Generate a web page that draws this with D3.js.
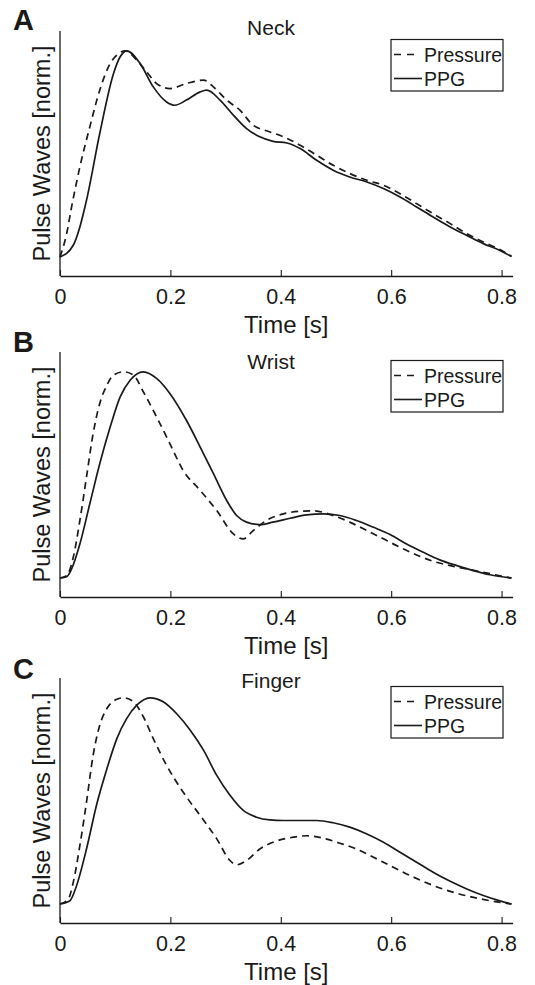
<!DOCTYPE html>
<html>
<head>
<meta charset="utf-8">
<script src="https://cdn.jsdelivr.net/npm/d3@7"></script>
<style>
  body { margin: 0; background: #fff; }
  svg text { font-family: "Liberation Sans", Arial, Helvetica, sans-serif; fill: #1a1a1a; }
</style>
</head>
<body>
<div id="chart"></div>
<script>
// panel letters / titles / legend entries
var panelLetters = ["A", "B", "C"];
var panelTitles = ["Neck", "Wrist", "Finger"];
var seriesNames = ["Pressure", "PPG"];
var xTicks = [0, 0.2, 0.4, 0.6, 0.8];
var xTickLabels = ["0", "0.2", "0.4", "0.6", "0.8"];

// pulse waves: [time (s), normalised amplitude]
var neckPressure = [[0,0],[0.012,0.113],[0.021,0.243],[0.036,0.437],[0.054,0.631],[0.072,0.809],[0.091,0.939],[0.103,0.979],[0.118,1],[0.139,0.955],[0.157,0.898],[0.175,0.841],[0.199,0.817],[0.229,0.841],[0.26,0.858],[0.278,0.825],[0.302,0.761],[0.326,0.712],[0.35,0.639],[0.374,0.612],[0.405,0.583],[0.435,0.542],[0.465,0.494],[0.495,0.445],[0.525,0.405],[0.556,0.372],[0.586,0.348],[0.616,0.307],[0.646,0.259],[0.676,0.21],[0.707,0.162],[0.737,0.113],[0.767,0.073],[0.797,0.036],[0.818,0.003]];
var neckPPG = [[0,0],[0.024,0.057],[0.036,0.146],[0.048,0.275],[0.072,0.599],[0.097,0.89],[0.109,0.971],[0.121,1],[0.145,0.939],[0.169,0.825],[0.193,0.752],[0.208,0.736],[0.229,0.761],[0.254,0.801],[0.266,0.809],[0.29,0.761],[0.314,0.688],[0.338,0.623],[0.362,0.583],[0.386,0.561],[0.411,0.553],[0.435,0.526],[0.465,0.469],[0.495,0.421],[0.525,0.388],[0.556,0.364],[0.586,0.332],[0.616,0.291],[0.646,0.243],[0.676,0.194],[0.707,0.146],[0.737,0.105],[0.767,0.065],[0.797,0.032],[0.818,0.003]];

var wristPressure = [[0,0],[0.012,0.011],[0.024,0.1],[0.036,0.279],[0.048,0.489],[0.06,0.7],[0.072,0.846],[0.085,0.935],[0.097,0.984],[0.115,1],[0.133,0.984],[0.151,0.903],[0.175,0.781],[0.199,0.652],[0.223,0.522],[0.254,0.425],[0.284,0.327],[0.314,0.214],[0.332,0.19],[0.35,0.23],[0.374,0.279],[0.405,0.311],[0.435,0.324],[0.459,0.326],[0.495,0.303],[0.525,0.271],[0.556,0.23],[0.586,0.19],[0.616,0.149],[0.646,0.112],[0.676,0.081],[0.707,0.06],[0.737,0.044],[0.767,0.028],[0.797,0.011],[0.818,0]];
var wristPPG = [[0,0],[0.012,0.006],[0.021,0.044],[0.036,0.165],[0.054,0.36],[0.072,0.554],[0.091,0.733],[0.109,0.878],[0.127,0.959],[0.151,1],[0.175,0.968],[0.199,0.895],[0.229,0.765],[0.254,0.635],[0.278,0.506],[0.302,0.376],[0.32,0.303],[0.338,0.271],[0.362,0.259],[0.386,0.271],[0.417,0.29],[0.447,0.306],[0.477,0.311],[0.507,0.303],[0.537,0.279],[0.568,0.246],[0.598,0.211],[0.628,0.165],[0.658,0.125],[0.688,0.088],[0.719,0.06],[0.749,0.036],[0.779,0.016],[0.818,0]];

var fingerPressure = [[0,0],[0.015,0.024],[0.024,0.105],[0.036,0.284],[0.048,0.494],[0.06,0.721],[0.072,0.867],[0.085,0.948],[0.1,0.989],[0.115,1],[0.133,0.981],[0.151,0.908],[0.169,0.802],[0.193,0.673],[0.223,0.543],[0.254,0.429],[0.284,0.316],[0.308,0.211],[0.32,0.19],[0.338,0.211],[0.362,0.267],[0.393,0.306],[0.423,0.324],[0.447,0.331],[0.477,0.319],[0.507,0.295],[0.537,0.267],[0.568,0.227],[0.598,0.186],[0.628,0.146],[0.658,0.11],[0.688,0.078],[0.719,0.052],[0.749,0.032],[0.779,0.016],[0.818,0]];
var fingerPPG = [[0,0],[0.018,0.016],[0.03,0.089],[0.048,0.267],[0.066,0.478],[0.085,0.656],[0.103,0.802],[0.121,0.9],[0.139,0.964],[0.163,1],[0.187,0.981],[0.211,0.924],[0.236,0.843],[0.26,0.746],[0.284,0.624],[0.308,0.527],[0.332,0.454],[0.356,0.421],[0.38,0.408],[0.405,0.405],[0.435,0.405],[0.465,0.405],[0.495,0.394],[0.525,0.373],[0.556,0.34],[0.586,0.3],[0.616,0.251],[0.646,0.203],[0.676,0.154],[0.707,0.11],[0.737,0.073],[0.767,0.041],[0.797,0.015],[0.818,0]];

var pressureSeries = [neckPressure, wristPressure, fingerPressure];
var ppgSeries = [neckPPG, wristPPG, fingerPPG];

// layout
var W = 535, H = 985;
var left = 60, right = 512.6;
var plotH = 245;
var panelTop = [31, 352, 678];
var titleY = [35, 369, 688];
var letterY = [30, 352, 679];

var svg = d3.select("#chart")
  .append("svg")
    .attr("width", W)
    .attr("height", H);

var x = d3.scaleLinear()
    .domain([0, 0.82])
    .range([left, right]);

panelTitles.forEach(function(title, i) {
  var top = panelTop[i], bottom = top + plotH;

  var y = d3.scaleLinear()
      .domain([-0.092, 1.096])
      .range([bottom, top]);

  var line = d3.line()
      .x(function(d) { return x(d[0]); })
      .y(function(d) { return y(d[1]); })
      .curve(d3.curveMonotoneX);

  var g = svg.append("g");

  // y axis line only (no ticks)
  g.append("line")
    .attr("x1", left).attr("x2", left)
    .attr("y1", top).attr("y2", bottom)
    .attr("stroke", "#1a1a1a")
    .attr("stroke-width", 1.3);

  // x axis, ticks point inward
  var ax = g.append("g")
    .attr("transform", "translate(0," + bottom + ")")
    .call(d3.axisBottom(x)
      .tickValues(xTicks)
      .tickFormat(function(d, k) { return xTickLabels[k]; })
      .tickSizeInner(-6)
      .tickSizeOuter(0)
      .tickPadding(12.5));
  ax.select(".domain").attr("stroke", "#1a1a1a").attr("stroke-width", 1.3);
  ax.selectAll(".tick line").attr("stroke", "#1a1a1a").attr("stroke-width", 1.1);
  ax.selectAll(".tick text")
    .attr("font-size", 21.5)
    .style("font-family", "'Liberation Sans', Arial, sans-serif")
    .attr("fill", "#1a1a1a");

  // curves
  g.append("path")
    .datum(pressureSeries[i])
    .attr("d", line)
    .attr("fill", "none")
    .attr("stroke", "#1a1a1a")
    .attr("stroke-width", 1.7)
    .attr("stroke-dasharray", "7,5");

  g.append("path")
    .datum(ppgSeries[i])
    .attr("d", line)
    .attr("fill", "none")
    .attr("stroke", "#1a1a1a")
    .attr("stroke-width", 1.7);

  // labels
  g.append("text")
    .attr("x", (left + right) / 2)
    .attr("y", bottom + 57)
    .attr("text-anchor", "middle")
    .attr("font-size", 24)
    .text("Time [s]");

  g.append("text")
    .attr("transform", "translate(50," + ((top + bottom) / 2) + ") rotate(-90)")
    .attr("text-anchor", "middle")
    .attr("font-size", 23.5)
    .text("Pulse Waves [norm.]");

  g.append("text")
    .attr("x", 271)
    .attr("y", titleY[i])
    .attr("text-anchor", "middle")
    .attr("font-size", 21)
    .text(title);

  g.append("text")
    .attr("x", 13)
    .attr("y", letterY[i])
    .attr("font-size", 29)
    .attr("font-weight", "bold")
    .text(panelLetters[i]);

  // legend
  var lg = g.append("g")
    .attr("transform", "translate(391," + (top + 8.5) + ")");
  lg.append("rect")
    .attr("width", 112).attr("height", 51.5)
    .attr("fill", "#fff")
    .attr("stroke", "#1a1a1a")
    .attr("stroke-width", 1.2);
  seriesNames.forEach(function(name, k) {
    var yy = 15 + k * 24;
    lg.append("line")
      .attr("x1", 3).attr("x2", k == 0 ? 23 : 31)
      .attr("y1", yy).attr("y2", yy)
      .attr("stroke", "#1a1a1a")
      .attr("stroke-width", 1.6)
      .attr("stroke-dasharray", k == 0 ? "7,6" : null);
    lg.append("text")
      .attr("x", 33)
      .attr("y", yy + 7)
      .attr("font-size", 19.5)
      .text(name);
  });
});
</script>
</body>
</html>
